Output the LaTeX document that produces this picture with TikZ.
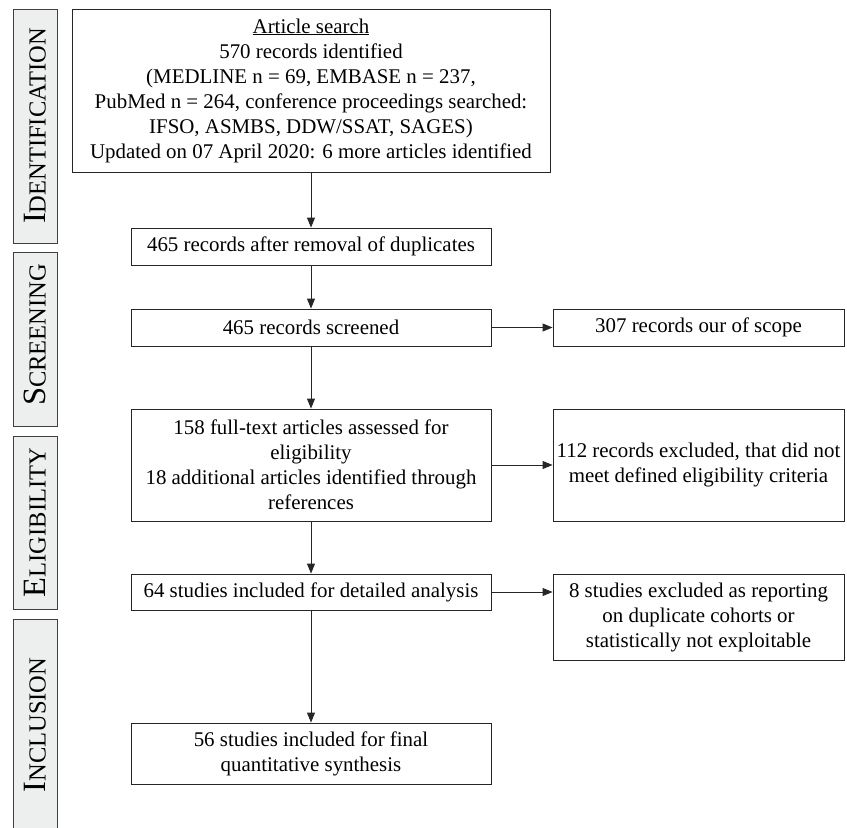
\documentclass[tikz,border=0pt]{standalone}
\usepackage{fontspec}
\setmainfont{Liberation Serif}
\usepackage{xcolor}
\usepackage{tikz}
\usetikzlibrary{arrows.meta}

\definecolor{phasegray}{HTML}{EDEEEE}
\newcommand{\fakesc}[2]{{\fontsize{32.5}{32.5}\selectfont #1}{\fontsize{24.5}{24.5}\selectfont #2}}

\begin{document}
\begin{tikzpicture}[
  x=1pt, y=-1pt,
  box/.style={draw=black!85, line width=0.9pt, inner sep=0pt, align=center,
    font=\fontsize{20.9}{25}\selectfont},
  phase/.style={draw=black!75, line width=0.9pt, fill=phasegray, rotate=90,
    inner sep=0pt, minimum height=44},
  arr/.style={-{Triangle[length=10,width=8]}, line width=0.9pt, draw=black!85}
]
  \useasboundingbox (0,0) rectangle (847,828);
  % phases on the left
  \node[phase, minimum width=234] (pid) at (35,126) {\fakesc{I}{DENTIFICATION}\hspace{16pt}};
  \node[phase, minimum width=174] (pscr) at (35,339) {\hspace{8pt}\fakesc{S}{CREENING}};
  \node[phase, minimum width=173] (pelig) at (35,522.5) {\fakesc{E}{LIGIBILITY}};
  \node[phase, minimum width=212] (pincl) at (35,725) {\fakesc{I}{NCLUSION}};

  % main column
  \node[box, minimum width=478, minimum height=163] (search) at (311,90.5)
    {\underline{Article search}\\570 records identified\\
     (MEDLINE n = 69, EMBASE n = 237,\\
     PubMed n = 264, conference proceedings searched:\\
     IFSO, ASMBS, DDW/SSAT, SAGES)\\
     Updated on 07 April 2020: 6 more articles identified};
  \node[box, minimum width=360, minimum height=37] (dedup) at (311,246.5)
    {465 records after removal of duplicates};
  \node[box, minimum width=360, minimum height=37] (screened) at (311,327.5)
    {465 records screened};
  \node[box, minimum width=360, minimum height=112] (fulltext) at (311,465)
    {158 full-text articles assessed for\\eligibility\\
     18 additional articles identified through\\references};
  \node[box, minimum width=360, minimum height=36] (detailed) at (311,592)
    {64 studies included for detailed analysis};
  \node[box, minimum width=360, minimum height=61] (final) at (311,753.5)
    {56 studies included for final\\quantitative synthesis};

  % exclusions
  \node[box, minimum width=291, minimum height=37] (scope) at (698.5,327.5)
    {307 records our of scope};
  \node[box, minimum width=291, minimum height=112] (excl) at (698.5,465)
    {112 records excluded, that did not\\meet defined eligibility criteria};
  \node[box, minimum width=291, minimum height=86] (dup) at (698.5,617)
    {8 studies excluded as reporting\\on duplicate cohorts or\\statistically not exploitable};

  \draw[arr] (search) -- (dedup);
  \draw[arr] (dedup) -- (screened);
  \draw[arr] (screened) -- (fulltext);
  \draw[arr] (fulltext) -- (detailed);
  \draw[arr] (detailed) -- (final);
  \draw[arr] (screened) -- (scope);
  \draw[arr] (fulltext) -- (excl);
  \draw[arr] (detailed.east) -- (detailed.east -| dup.west);
\end{tikzpicture}
\end{document}
